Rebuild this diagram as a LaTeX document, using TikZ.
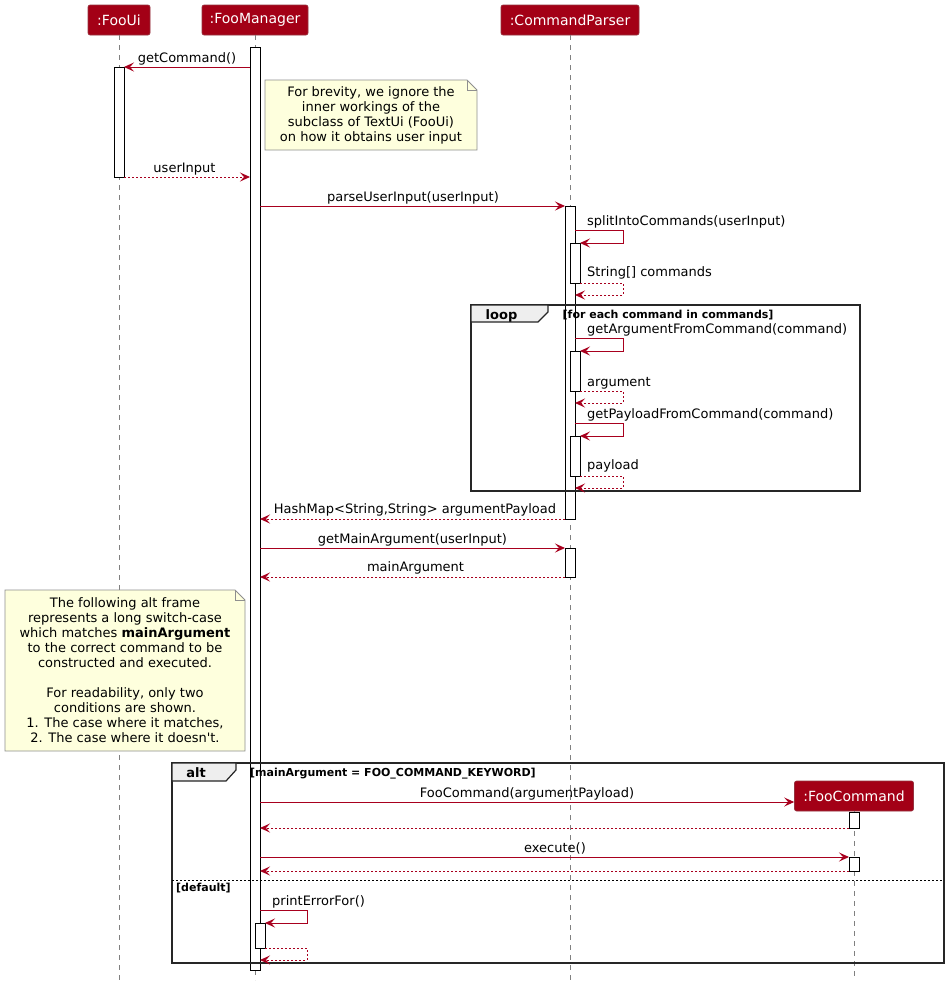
\documentclass[tikz,border=0pt]{standalone}
\usepackage{fontspec}
\setmainfont{DejaVu Sans}[Ligatures=TeXOff]
\usetikzlibrary{arrows.meta}
\definecolor{hdr}{RGB}{163,0,22}
\definecolor{arr}{RGB}{168,0,30}
\definecolor{notefill}{HTML}{FEFFDD}
\definecolor{noteborder}{HTML}{8F8F8F}
\definecolor{tabfill}{HTML}{EEEEEE}
\tikzset{
  hdrbox/.style={rectangle, rounded corners=2pt, fill=hdr, draw=hdr!60!gray, line width=0.6pt, text=white,
    font=\fontsize{14}{16}\selectfont, minimum height=30pt, inner sep=0pt},
  lifeline/.style={draw=gray, dash pattern=on 5pt off 5pt, line width=0.8pt},
  actbar/.style={draw=black, fill=white, line width=0.8pt, minimum width=10pt, inner sep=0pt, outer sep=0pt, anchor=north},
  msg/.style={draw=arr, line width=1pt, -{Stealth[length=10pt,width=9pt,inset=4pt]}},
  ret/.style={msg, dash pattern=on 2pt off 2pt},
  lbl/.style={font=\fontsize{13}{15}\selectfont, inner sep=0pt, anchor=base},
  lbll/.style={lbl, anchor=base west},
  guard/.style={font=\bfseries\fontsize{11}{13}\selectfont, inner sep=0pt, anchor=base west},
  tablbl/.style={font=\bfseries\fontsize{13}{15}\selectfont, inner sep=0pt, anchor=base},
  frameline/.style={draw=black!85, line width=1.5pt},
  tabline/.style={draw=black!85, line width=1.2pt, fill=tabfill},
  notebox/.style={draw=noteborder, fill=notefill, line width=0.8pt},
  notetext/.style={font=\fontsize{13}{15}\selectfont, align=center, inner sep=0pt}
}
\begin{document}
\begin{tikzpicture}[x=1pt,y=-1pt]
\useasboundingbox[fill=white] (0,0) rectangle (949,986);

% participants
\node[hdrbox, minimum width=62pt] (ui) at (119,20) {:FooUi};
\node[hdrbox, minimum width=106pt] (mgr) at (255,20) {:FooManager};
\node[hdrbox, minimum width=138pt] (cp) at (570,20) {:CommandParser};

% lifelines
\coordinate (uiEnd) at (119,980);
\coordinate (cpEnd) at (570,980);
\coordinate (mgrEnd) at (255,980);
\coordinate (fcEnd) at (854,976);
\draw[lifeline] (ui.south) -- (uiEnd);
\draw[lifeline] (cp.south) -- (cpEnd);
\draw[lifeline] (mgr.south) -- (255,47);
\draw[lifeline] (255,970) -- (mgrEnd);

% activations
\node[actbar, minimum height=923pt] (aMgr) at (255,47) {};
\node[actbar, minimum height=110pt] (aUi) at (119,67) {};
\node[actbar, minimum height=313pt] (aCp1) at (570,206) {};
\node[actbar, minimum height=29pt] (aCp2) at (570,548) {};
\node[actbar, minimum height=40pt] (aS1) at (575,243) {};
\node[actbar, minimum height=40pt] (aS2) at (575,351) {};
\node[actbar, minimum height=40pt] (aS3) at (575,436) {};
\node[actbar, minimum height=25pt] (aMgr2) at (260,923) {};

% FooCommand participant (created)
\node[hdrbox, minimum width=119pt] (fc) at (854,796) {:FooCommand};
\draw[lifeline] (fc.south) -- (fcEnd);
\node[actbar, minimum height=16pt] (aFc1) at (854,812) {};
\node[actbar, minimum height=14pt] (aFc2) at (854,857) {};

% note 1
\draw[notebox] (265,80) -- (467,80) -- (477,90) -- (477,150) -- (265,150) -- cycle;
\draw[noteborder, line width=0.8pt] (467,80) -- (467,90) -- (477,90);
\node[notetext] (note1) at (371,115) {For brevity, we ignore the\\inner workings of the\\subclass of TextUi (FooUi)\\on how it obtains user input};

% messages
\draw[msg] (aMgr.west|-0,67) -- (aUi.east|-0,67);
\node[lbl] (l1) at (187,62) {getCommand()};
\draw[ret] (aUi.east|-0,177) -- (aMgr.west|-0,177);
\node[lbl] (l2) at (184.5,172) {userInput};
\draw[msg] (aMgr.east|-0,206) -- (aCp1.west|-0,206);
\node[lbl] (l3) at (413,201) {parseUserInput(userInput)};
\draw[msg] (aCp1.east|-0,230) -- (623,230) -- (623,243) -- (aS1.east|-0,243);
\node[lbll] (l4) at (587,225) {splitIntoCommands(userInput)};
\draw[ret] (aS1.east|-0,283) -- (623,283) -- (623,295) -- (aCp1.east|-0,295);
\node[lbll] (l5) at (587,276.5) {String[] commands};

% loop frame
\draw[frameline] (471,305) rectangle (860,491);
\draw[tabline] (471,305) -- (548,305) -- (548,312) -- (538,322) -- (471,322) -- cycle;
\node[tablbl] (loopl) at (501.5,319.5) {loop};
\node[guard] (loopg) at (562.5,318.5) {[for each command in commands]};

\draw[msg] (aCp1.east|-0,338) -- (623,338) -- (623,351) -- (aS2.east|-0,351);
\node[lbll] (l6) at (587,333) {getArgumentFromCommand(command)};
\draw[ret] (aS2.east|-0,391) -- (623,391) -- (623,403) -- (aCp1.east|-0,403);
\node[lbll] (l7) at (587,386) {argument};
\draw[msg] (aCp1.east|-0,423) -- (623,423) -- (623,436) -- (aS3.east|-0,436);
\node[lbll] (l8) at (587,418) {getPayloadFromCommand(command)};
\draw[ret] (aS3.east|-0,476) -- (623,476) -- (623,488) -- (aCp1.east|-0,488);
\node[lbll] (l9) at (587,469.5) {payload};

\draw[ret] (aCp1.west|-0,519) -- (aMgr.east|-0,519);
\node[lbl] (l10) at (415,513) {HashMap<String,String> argumentPayload};
\draw[msg] (aMgr.east|-0,548) -- (aCp2.west|-0,548);
\node[lbl] (l11) at (412.5,543) {getMainArgument(userInput)};
\draw[ret] (aCp2.west|-0,577) -- (aMgr.east|-0,577);
\node[lbl] (l12) at (415.5,571.5) {mainArgument};

% note 2
\draw[notebox] (5,590) -- (235,590) -- (245,600) -- (245,751) -- (5,751) -- cycle;
\draw[noteborder, line width=0.8pt] (235,590) -- (235,600) -- (245,600);
\node[notetext] (note2) at (125,670.5) {The following alt frame\\represents a long switch-case\\which matches \textbf{mainArgument}\\to the correct command to be\\constructed and executed.\\[15pt]For readability, only two\\conditions are shown.\\1. The case where it matches,\\2. The case where it doesn't.};

% alt frame
\draw[frameline] (172,763) rectangle (944,963);
\draw[tabline] (172,763) -- (236,763) -- (236,770) -- (226,781) -- (172,781) -- cycle;
\node[tablbl] (altl) at (196,777.5) {alt};
\node[guard] (altg) at (250,776.5) {[mainArgument = FOO\_COMMAND\_KEYWORD]};
\draw[black, line width=0.8pt, dash pattern=on 2pt off 2pt] (172,880) -- (944,880);
\node[guard] (defg) at (176,891) {[default]};

\draw[msg] (aMgr.east|-0,802) -- (fc.west|-0,802);
\node[lbl] (l13) at (527,797) {FooCommand(argumentPayload)};
\draw[ret] (aFc1.west|-0,828) -- (aMgr.east|-0,828);
\draw[msg] (aMgr.east|-0,857) -- (aFc2.west|-0,857);
\node[lbl] (l14) at (555,852) {execute()};
\draw[ret] (aFc2.west|-0,871) -- (aMgr.east|-0,871);

\draw[msg] (aMgr.east|-0,910) -- (307,910) -- (307,923) -- (aMgr2.east|-0,923);
\node[lbll] (l15) at (272,905) {printErrorFor()};
\draw[ret] (aMgr2.east|-0,948) -- (307,948) -- (307,960) -- (aMgr.east|-0,960);
\end{tikzpicture}
\end{document}
